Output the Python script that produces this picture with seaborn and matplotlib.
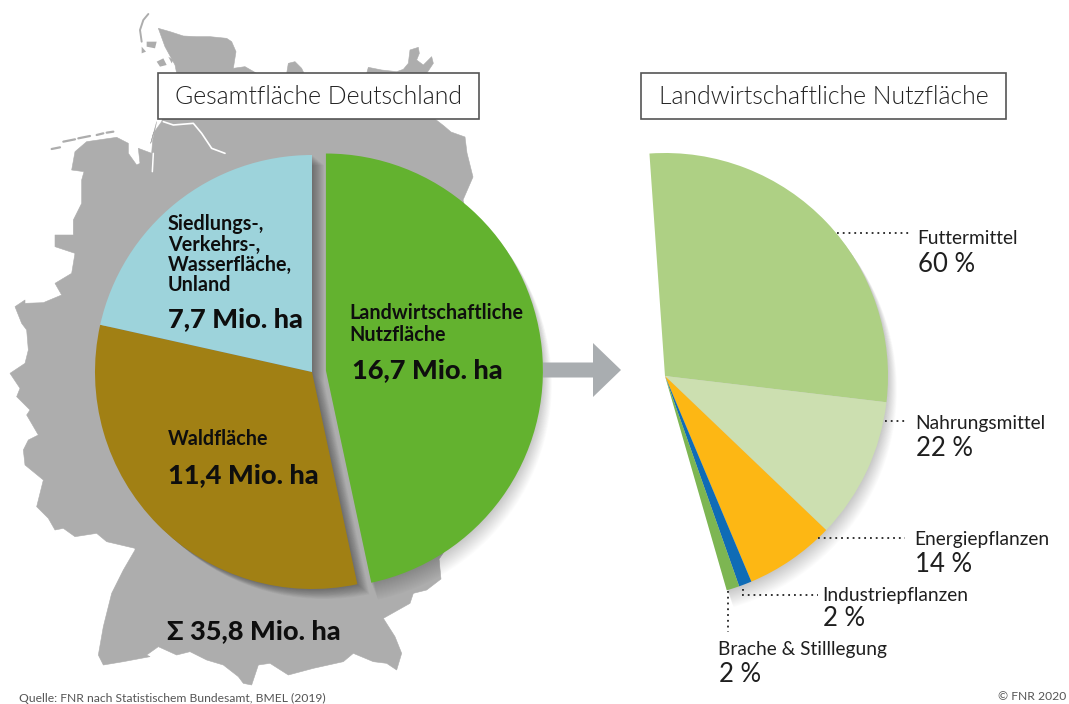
import matplotlib
matplotlib.use("Agg")
import matplotlib.pyplot as plt
from matplotlib.patches import Polygon, Rectangle, Wedge, FancyArrow
import seaborn as sns

sns.set_theme(style="white")

# data
area_names = ["Landwirtschaftliche Nutzfläche", "Waldfläche", "Siedlungs-, Verkehrs-, Wasserfläche, Unland"]
areas = [16.7, 11.4, 7.7]
area_colors = ["#63B22F", "#A18014", "#9DD3DB"]
total = 35.8
use_names = ["Futtermittel", "Nahrungsmittel", "Energiepflanzen", "Industriepflanzen", "Brache & Stilllegung"]
use_shares = [60, 22, 14, 2, 2]
use_colors = ["#AED084", "#CCDFB0", "#FDB714", "#0F6CB6", "#7DB652"]

W, H = 1069, 704


def Y(y):
    return H - y


# Germany silhouette, in crop coordinates of each region
north = [(85,55),(120,65),(160,78),(200,80),(240,80),(290,85),(305,95),(318,125),(310,175),(345,170),(380,190),(470,190),
         (475,160),(495,155),(515,175),(522,190),(710,190),(715,172),(755,180),(800,185),(820,178),(835,160),(840,120),
         (865,112),(868,130),(860,150),(880,165),(905,140),(910,160),(890,190),(915,327)]
north_px = [(130 + a / 3, 10 + b / 3) for a, b in north]
east_px = [(444,126),(451,132),(465,137),(467,153),(473,177),(463,200),(490,300),(480,500),(439,559),(441,579)]
south = [(1040,150),(1000,160),(990,190),(910,235),(945,290),(965,340),(950,390),(920,370),(880,365),(820,340),(790,365),
         (700,385),(625,405),(570,370),(535,375),(515,435),(490,430),(475,410),(430,375),(380,360),(330,335),(290,345),
         (235,320),(200,345),(210,350),(130,365),(70,375),(55,345),(70,260),(95,160),(130,90),(165,30)]
south_px = [(80 + a / 3, 540 + b / 3) for a, b in south]
west_low = [(405,655),(320,635),(290,610),(225,620),(190,595),(165,600),(145,565),(110,530),(130,450),(75,405),(70,360),
            (85,330),(115,315),(80,255),(90,240),(50,200),(60,175),(30,130),(75,100),(85,60),(80,0)]
west_low_px = [(a / 3, 330 + b / 3) for a, b in west_low]
west_up = [(65,610),(45,560),(75,540),(75,550),(130,548),(185,525),(165,490),(215,460),(225,400),(165,380),(165,345),
           (220,345),(220,300),(245,250),(245,180),(252,155),(215,150),(225,95),(260,65),(350,52),(385,70),(385,100),
           (410,135),(420,130),(415,85),(455,100),(458,60),(470,5)]
west_up_px = [(a / 3, 120 + b / 3) for a, b in west_up]
north_close_px = [(130 + a / 3, 10 + b / 3) for a, b in [(62,400),(70,370),(95,335),(140,190),(135,165),(105,110)]]
land = [(x, Y(y)) for x, y in north_px + east_px + south_px + west_low_px + west_up_px + north_close_px]


def crop1(pts):
    return [(130 + a / 3, Y(10 + b / 3)) for a, b in pts]


def crop2(pts):
    return [(a / 3, Y(120 + b / 3)) for a, b in pts]


islands = [crop1(p) for p in ([(50,95),(80,95),(75,115),(50,110)], [(35,110),(48,125),(35,130)],
                              [(80,155),(100,145),(110,165),(90,170)], [(115,140),(130,150),(125,160)])]
sylt = crop1([(55,12),(40,30),(30,60),(35,95)])
frisia = [crop2(p) for p in ([(155,87),(180,82)], [(190,65),(225,58)], [(235,55),(270,48)], [(290,45),(310,40)], [(320,38),(340,35)])]
elbe = crop1([(100,335),(130,345),(190,340),(215,370),(245,415),(285,430)])
weser = crop2([(460,100),(457,155)])

GRAY = "#ADADAD"
fig = plt.figure(figsize=(W / 100, H / 100), dpi=100, facecolor="white")
ax = fig.add_axes([0, 0, 1, 1])

ax.add_patch(Polygon(land, closed=True, fc=GRAY, ec=GRAY, lw=0.4, joinstyle="round", zorder=1))
for shape in islands:
    ax.add_patch(Polygon(shape, closed=True, fc=GRAY, ec="none", zorder=1))
ax.plot(*zip(*sylt), color=GRAY, lw=1.4, zorder=1)
for seg in frisia:
    ax.plot(*zip(*seg), color=GRAY, lw=1.6, solid_capstyle="round", zorder=1)
ax.plot(*zip(*elbe), color="white", lw=1.2, zorder=2)
ax.plot(*zip(*weser), color="white", lw=1.1, zorder=2)


def soft_shadow(center, r, t1, t2, dx, dy, grow, steps, alpha):
    for k in range(steps, 0, -1):
        f = k / steps
        ax.add_patch(Wedge((center[0] + dx * f, center[1] + dy * f), r + grow * f, t1, t2, fc="black", ec="none",
                           alpha=alpha, zorder=3))


# left pie
left_wedges, _ = ax.pie(areas, colors=area_colors, center=(312, Y(372)), radius=217, startangle=90,
                        counterclock=False, explode=[14, 0, 0], frame=True,
                        wedgeprops=dict(linewidth=0, zorder=5))
# right pie: together the shares fill the same sweep as the green wedge on the left
right_sizes = [s / 100 * areas[0] / total for s in use_shares]
right_wedges, _ = ax.pie(right_sizes, colors=use_colors, center=(665, Y(376)), radius=223, startangle=94,
                         counterclock=False, normalize=False, frame=True,
                         wedgeprops=dict(linewidth=0, zorder=5))
g = left_wedges[0]
soft_shadow(g.center, g.r, g.theta1, g.theta2, 6, -14, 3, 18, 0.012)
soft_shadow(left_wedges[1].center, left_wedges[1].r, left_wedges[2].theta1, left_wedges[1].theta2, 12, -10, 0, 14, 0.026)
soft_shadow(right_wedges[0].center, right_wedges[0].r, right_wedges[-1].theta1, right_wedges[0].theta2, 6, -14, 3, 18, 0.012)

ax.set_xlim(0, W)
ax.set_ylim(0, H)
ax.set_aspect("auto")
ax.axis("off")

# arrow
ax.add_patch(FancyArrow(543, Y(370), 78, 0, width=15, head_width=54, head_length=28,
                        length_includes_head=True, fc="#A9ADB0", ec="none", zorder=4))

# title boxes
LIGHT = "Lato"
for x0, x1, title in [(158, 479, "Gesamtfläche Deutschland"), (641, 1006, area_names[0])]:
    ax.add_patch(Rectangle((x0, Y(119)), x1 - x0, 46, fc="white", ec="#555555", lw=1.2, zorder=6))
    ax.text((x0 + x1) / 2, Y(97), title, ha="center", va="center", fontsize=17.8, family=LIGHT, fontweight=300,
            color="#222222", zorder=7)


def label(x, y, s, size, weight=400, color="#1F1F1F"):
    ax.text(x, Y(y), s, ha="left", va="center", fontsize=size, family=LIGHT, fontweight=weight, color=color, zorder=8)


# left labels
DARK = "#0E0E0E"
for y, s in [(224, "Siedlungs-,"), (245, "Verkehrs-,"), (265, "Wasserfläche,"), (285, "Unland")]:
    label(168, y, s, 14.2, 700, DARK)
label(168, 319, "7,7 Mio. ha", 19.5, 900, DARK)
label(349, 313, "Landwirtschaftliche", 14.2, 700, DARK)
label(349, 335, "Nutzfläche", 14.2, 700, DARK)
label(352, 370, "16,7 Mio. ha", 19.5, 900, DARK)
label(168, 439, "Waldfläche", 14.2, 700, DARK)
label(168, 475, "11,4 Mio. ha", 19.5, 900, DARK)
label(167, 631, "Σ 35,8 Mio. ha", 19.5, 900, DARK)

# right labels
for x, y1, name, y2, pct in zip([917, 915, 914, 822, 718], [238, 424, 540, 595, 650], use_names,
                                [264, 449, 565, 619, 674], use_shares):
    label(x, y1, name, 13.8)
    label(x + 1, y2, f"{pct} %", 18.5)

# dotted leaders
DOT = dict(color="#222222", lw=1.3, ls=(0, (1, 2.2)), zorder=6)
for xs, ys in [((837, 910), (233, 233)), ((885, 908), (421, 421)), ((818, 905), (538, 538)),
               ((742, 818), (595, 595)), ((743, 743), (589, 595)), ((728, 728), (591, 632))]:
    ax.plot(xs, [Y(v) for v in ys], **DOT)

# footer
ax.text(19, Y(698), "Quelle: FNR nach Statistischem Bundesamt, BMEL (2019)", ha="left", va="center",
        fontsize=8.7, family=LIGHT, color="#555555")
ax.text(1066, Y(697), "© FNR 2020", ha="right", va="center", fontsize=8.7, family=LIGHT, color="#555555")

fig.savefig("out.png", dpi=100, facecolor="white")
